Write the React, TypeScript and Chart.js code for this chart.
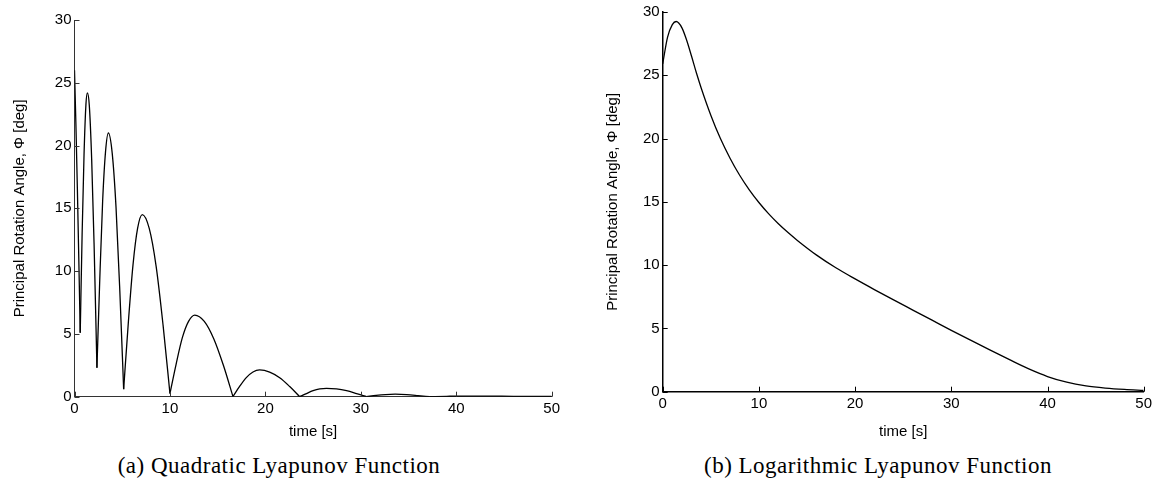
import React, { useEffect, useRef } from 'react';
import { Chart, registerables } from 'chart.js';

Chart.register(...registerables);

// ---- Data ----
const timeTicks = [0, 10, 20, 30, 40, 50];
const angleTicks = [0, 5, 10, 15, 20, 25, 30];

// (a) Quadratic Lyapunov Function: time [s] and Φ [deg]
const quadT = [
  0, 0.15, 0.3, 0.45, 0.6,
  0.8, 1.0, 1.2, 1.35, 1.55, 1.8, 2.05, 2.35,
  2.65, 2.95, 3.25, 3.55, 3.95, 4.35, 4.75, 5.15,
  5.64, 6.13, 6.61, 7.1, 7.83, 8.55, 9.28, 10.0,
  10.65, 11.3, 11.95, 12.6, 13.6, 14.6, 15.6, 16.6,
  17.3, 18.0, 18.7, 19.4, 20.45, 21.5, 22.55, 23.6,
  24.3, 25.0, 25.7, 26.4, 27.45, 28.5, 29.55, 30.6,
  31.6, 32.6, 33.6, 34.8, 36.0, 37.2,
  39, 41, 43, 46, 50,
];
const quadV = [
  26.0, 21.6, 16.6, 11.0, 5.1,
  13.0, 19.3, 23.3, 24.2, 23.2, 18.9, 12.2, 2.3,
  9.4, 15.6, 19.5, 21.0, 19.4, 15.1, 8.4, 0.6,
  5.9, 10.5, 13.4, 14.5, 13.4, 10.4, 5.7, 0.25,
  2.6, 4.7, 6.0, 6.5, 6.0, 4.6, 2.5, 0.02,
  0.82, 1.52, 1.97, 2.13, 1.96, 1.51, 0.81, 0.0,
  0.25, 0.48, 0.62, 0.67, 0.62, 0.48, 0.25, 0.0,
  0.1, 0.17, 0.2, 0.17, 0.09, 0.0,
  0.03, 0.05, 0.05, 0.03, 0.02,
];
// indices of the sharp minima (cusps) in quadT / quadV
const quadCusps = [0, 4, 12, 20, 28, 36, 44, 52, 58, 63];

// (b) Logarithmic Lyapunov Function
const logT = [
  0, 0.5, 1.0, 1.4, 2.0, 2.5, 3.0, 3.5, 4.0, 5.0, 6.0, 7.0, 8.0, 9.0, 10.0,
  11.0, 12.0, 13.0, 14.0, 16.0, 18.0, 20.0, 22.0, 24.0, 26.0, 28.0, 30.0,
  32.0, 34.0, 36.0, 38.0, 40.0, 42.0, 44.0, 46.0, 48.0, 50.0,
];
const logV = [
  25.9, 28.0, 29.0, 29.25, 28.75, 27.75, 26.5, 25.2, 24.0, 21.85, 20.0, 18.45, 17.1, 15.95, 14.95,
  14.07, 13.29, 12.59, 11.95, 10.79, 9.79, 8.91, 8.07, 7.25, 6.45, 5.65, 4.85,
  4.07, 3.3, 2.55, 1.82, 1.2, 0.75, 0.46, 0.29, 0.18, 0.11,
];

const xTitle = 'time [s]';
const yTitle = 'Principal Rotation Angle, \u03A6 [deg]';
const captionA = '(a) Quadratic Lyapunov Function';
const captionB = '(b) Logarithmic Lyapunov Function';

Chart.defaults.font.family = '"Liberation Sans", Arial, Helvetica, sans-serif';
Chart.defaults.font.size = 15;
Chart.defaults.color = '#000';

const inwardTicks = {
  id: 'inwardTicks',
  afterDraw(chart: any, _args: any, opts: any) {
    const { ctx, chartArea } = chart;
    const x = chart.scales.x;
    const y = chart.scales.y;
    const len = opts.length ?? 5;
    ctx.save();
    ctx.strokeStyle = opts.color ?? '#000';
    ctx.lineWidth = opts.width ?? 1;
    ctx.beginPath();
    x.ticks.forEach((_t: any, i: number) => {
      const px = Math.round(x.getPixelForTick(i)) + 0.5;
      ctx.moveTo(px, chartArea.bottom);
      ctx.lineTo(px, chartArea.bottom - len);
    });
    y.ticks.forEach((_t: any, i: number) => {
      const py = Math.round(y.getPixelForTick(i)) + 0.5;
      ctx.moveTo(chartArea.left, py);
      ctx.lineTo(chartArea.left + len, py);
    });
    ctx.stroke();
    ctx.restore();
  },
};

type Geo = {
  w: number;
  h: number;
  l: number;
  r: number;
  t: number;
  b: number;
  yTitleCenter: number;
  xTitleCenter: number;
  axisColor: string;
  axisWidth: number;
};

function makeOptions(g: Geo) {
  return {
    responsive: false,
    animation: false as const,
    layout: { padding: { left: 0, top: g.t, right: g.w - g.r, bottom: 0 }, autoPadding: false },
    plugins: {
      legend: { display: false },
      tooltip: { enabled: false },
      inwardTicks: { length: 5, color: g.axisColor, width: 1 },
    },
    elements: { point: { radius: 0 } },
    scales: {
      x: {
        type: 'linear' as const,
        min: 0,
        max: 50,
        afterBuildTicks: (s: any) => { s.ticks = timeTicks.map((v) => ({ value: v })); },
        afterFit: (s: any) => { s.height = g.h - g.b; },
        grid: { display: false, drawTicks: false },
        border: { display: true, color: g.axisColor, width: g.axisWidth },
        ticks: { padding: 3, color: '#000', maxRotation: 0, autoSkip: false },
        title: {
          display: true,
          text: xTitle,
          color: '#000',
          padding: { top: 0, bottom: g.h - g.xTitleCenter - 9 },
        },
      },
      y: {
        type: 'linear' as const,
        min: 0,
        max: 30,
        afterBuildTicks: (s: any) => { s.ticks = angleTicks.map((v) => ({ value: v })); },
        afterFit: (s: any) => { s.width = g.l; },
        grid: { display: false, drawTicks: false },
        border: { display: true, color: g.axisColor, width: g.axisWidth },
        ticks: { padding: 3, color: '#000', autoSkip: false },
        title: {
          display: true,
          text: yTitle,
          color: '#000',
          padding: { top: g.yTitleCenter - 9, bottom: 0 },
        },
      },
    },
  };
}

const leftGeo: Geo = {
  w: 575, h: 445, l: 74.5, r: 551.7, t: 20, b: 396.7,
  yTitleCenter: 20, xTitleCenter: 432, axisColor: '#333', axisWidth: 1,
};
const rightGeo: Geo = {
  w: 577, h: 445, l: 82.7, r: 563.7, t: 11.7, b: 391.7,
  yTitleCenter: 33, xTitleCenter: 432, axisColor: '#000', axisWidth: 1.5,
};

function quadDatasets() {
  const sets: any[] = [];
  for (let i = 0; i < quadCusps.length - 1; i++) {
    const a = quadCusps[i];
    const b = quadCusps[i + 1];
    const pts = [];
    for (let k = a; k <= b; k++) pts.push({ x: quadT[k], y: quadV[k] });
    sets.push({
      data: pts,
      borderColor: '#000',
      borderWidth: 1.3,
      cubicInterpolationMode: 'monotone',
      pointRadius: 0,
      fill: false,
    });
  }
  return sets;
}

function logDatasets() {
  return [
    {
      data: logT.map((t, i) => ({ x: t, y: logV[i] })),
      borderColor: '#000',
      borderWidth: 1.3,
      cubicInterpolationMode: 'monotone',
      pointRadius: 0,
      fill: false,
    },
  ];
}

function Plot({ geo, left, datasets }: { geo: Geo; left: number; datasets: () => any[] }) {
  const ref = useRef<HTMLCanvasElement | null>(null);
  useEffect(() => {
    if (!ref.current) return;
    const chart = new Chart(ref.current, {
      type: 'line',
      data: { datasets: datasets() },
      options: makeOptions(geo) as any,
      plugins: [inwardTicks],
    });
    return () => chart.destroy();
  }, []);
  return (
    <canvas
      ref={ref}
      width={geo.w}
      height={geo.h}
      style={{ position: 'absolute', left, top: 0, width: geo.w, height: geo.h }}
    />
  );
}

const captionStyle: React.CSSProperties = {
  position: 'absolute',
  top: 453,
  fontFamily: '"Liberation Serif", "Times New Roman", serif',
  fontSize: 23,
  letterSpacing: 0.5,
  lineHeight: '26px',
  whiteSpace: 'nowrap',
  color: '#000',
  transform: 'translateX(-50%)',
};

export default function App() {
  return (
    <div style={{ position: 'absolute', left: 0, top: 0, width: 1157, height: 480, background: '#fff', overflow: 'hidden' }}>
      <Plot geo={leftGeo} left={0} datasets={quadDatasets} />
      <Plot geo={rightGeo} left={580} datasets={logDatasets} />
      <div style={{ ...captionStyle, left: 279 }}>{captionA}</div>
      <div style={{ ...captionStyle, left: 878 }}>{captionB}</div>
    </div>
  );
}
